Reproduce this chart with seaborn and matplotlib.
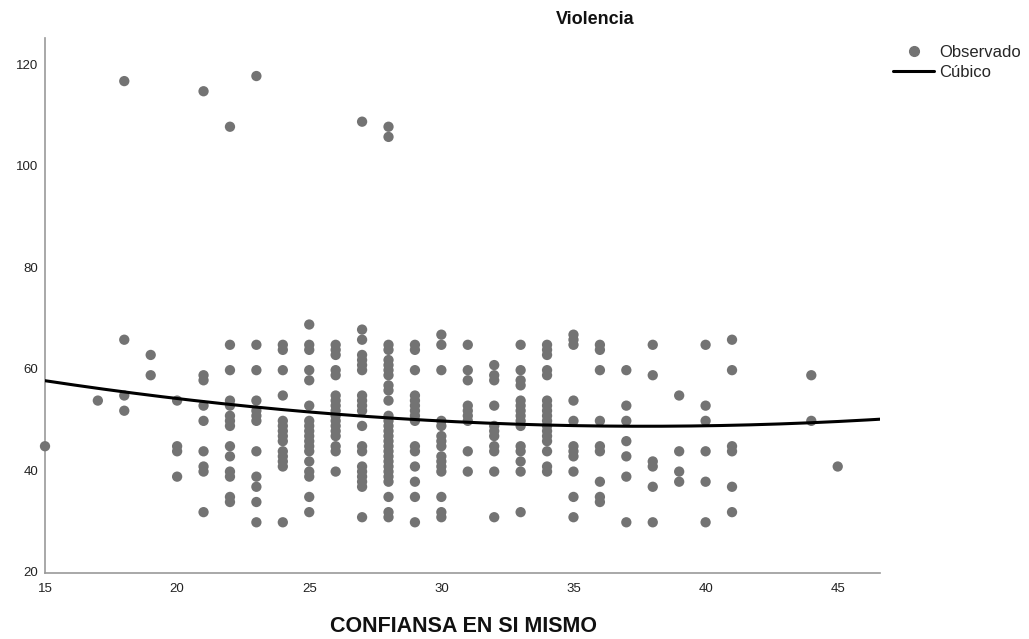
import numpy as np
import pandas as pd
import matplotlib
matplotlib.use("Agg")
import matplotlib.pyplot as plt
import seaborn as sns
from matplotlib.lines import Line2D

# Observed values per CONFIANSA EN SI MISMO score
col_x = [15, 17, 18, 19, 20, 21, 22, 23, 24, 25, 26, 27, 28, 29, 30,
         31, 32, 33, 34, 35, 36, 37, 38, 39, 40, 41, 44, 45]
col_y = [
    [45],
    [54],
    [117, 66, 55, 52],
    [63, 59],
    [54, 45, 44, 39],
    [115, 59, 58, 53, 50, 44, 41, 40, 32],
    [108, 65, 60, 54, 53, 51, 50, 49, 45, 43, 40, 39, 35, 34],
    [118, 65, 60, 54, 52, 51, 50, 44, 39, 37, 34, 30],
    [65, 64, 60, 55, 50, 49, 48, 47, 46, 44, 43, 42, 41, 30],
    [69, 65, 64, 60, 58, 53, 50, 49, 48, 47, 46, 45, 44, 42, 40, 39, 35, 32],
    [65, 64, 63, 60, 59, 55, 54, 53, 52, 51, 50, 49, 48, 47, 45, 44, 40],
    [109, 68, 66, 63, 62, 61, 60, 55, 54, 53, 52, 49, 45, 44, 41, 40, 39, 38, 37, 31],
    [108, 106, 65, 64, 62, 61, 60, 59, 57, 56, 54, 51, 50, 49, 48, 47, 46, 45,
     44, 43, 42, 41, 40, 39, 38, 35, 32, 31],
    [65, 64, 60, 55, 54, 53, 52, 51, 50, 45, 44, 41, 38, 35, 30],
    [67, 65, 60, 50, 49, 47, 46, 45, 43, 42, 41, 40, 35, 32, 31],
    [65, 60, 58, 53, 52, 51, 50, 44, 40],
    [61, 59, 58, 53, 49, 48, 47, 45, 44, 40, 31],
    [65, 60, 58, 57, 54, 53, 52, 51, 50, 49, 45, 44, 42, 40, 32],
    [65, 64, 63, 60, 59, 54, 53, 52, 51, 50, 49, 48, 47, 46, 44, 41, 40],
    [67, 66, 65, 54, 50, 45, 44, 43, 40, 35, 31],
    [65, 64, 60, 50, 45, 44, 38, 35, 34],
    [60, 53, 50, 46, 43, 39, 30],
    [65, 59, 42, 41, 37, 30],
    [55, 44, 40, 38],
    [65, 53, 50, 44, 38, 30],
    [66, 60, 45, 44, 37, 32],
    [59, 50],
    [41],
]

# Cubic fit curve, values at several x positions
curve_x = [15.0, 22.4, 30.7, 34.5, 38.6, 42.0, 46.6]
curve_y = [57.9, 53.1, 49.7, 49.1, 49.0, 49.3, 50.3]

xs, ys = [], []
for cx, vals in zip(col_x, col_y):
    for v in vals:
        xs.append(cx)
        ys.append(v)
df = pd.DataFrame({"conf": xs, "viol": ys})

XMIN, XMAX = 15, 46.6
YMIN, YMAX = 20, 125.5

sns.set_theme(style="white")
plt.rcParams["font.family"] = ["Liberation Sans", "DejaVu Sans"]

fig = plt.figure(figsize=(10.29, 6.39), dpi=100)
ax = fig.add_axes([45/1029, 1 - 573/639, (880-45)/1029, (573-38)/639])

dot_color = "#737373"
sns.scatterplot(data=df, x="conf", y="viol", ax=ax, color=dot_color,
                s=55, edgecolor="none", legend=False, zorder=3, clip_on=False)

coef = np.polyfit(curve_x, curve_y, 3)
gx = np.linspace(XMIN, XMAX, 200)
gy = np.polyval(coef, gx)
sns.lineplot(x=gx, y=gy, ax=ax, color="black", linewidth=2.2, zorder=4)

ax.set_xlim(XMIN, XMAX)
ax.set_ylim(YMIN, YMAX)
ax.set_xticks([15, 20, 25, 30, 35, 40, 45])
ax.set_yticks([20, 40, 60, 80, 100, 120])
ax.tick_params(axis="x", length=0, labelsize=9.5, colors="#222222", pad=7)
ax.tick_params(axis="y", length=0, labelsize=9.5, colors="#222222", pad=5)
for lab in ax.get_yticklabels():
    lab.set_verticalalignment("center")
ax.set_xlabel("")
ax.set_ylabel("")
for side in ["top", "right"]:
    ax.spines[side].set_visible(False)
for side in ["left", "bottom"]:
    ax.spines[side].set_color("#999999")
    ax.spines[side].set_linewidth(1.2)

fig.text(595/1029, 1 - 20/639, "Violencia", ha="center", va="center",
         fontsize=13, fontweight="bold", color="#111111")
fig.text(463/1029, 1 - 627/639, "CONFIANSA EN SI MISMO", ha="center", va="center",
         fontsize=15.5, fontweight="bold", color="#111111")

handles = [
    Line2D([0], [0], marker="o", linestyle="none", color=dot_color,
           markersize=7, label="Observado"),
    Line2D([0], [0], color="black", linewidth=2.2, label="Cúbico"),
]
fig.legend(handles=handles, loc="upper left", bbox_to_anchor=(886/1029, 1 - 38/639),
           frameon=False, fontsize=12, handlelength=2.5, handletextpad=0.3,
           labelspacing=0.3, borderaxespad=0)

fig.savefig("out.png", dpi=100)
